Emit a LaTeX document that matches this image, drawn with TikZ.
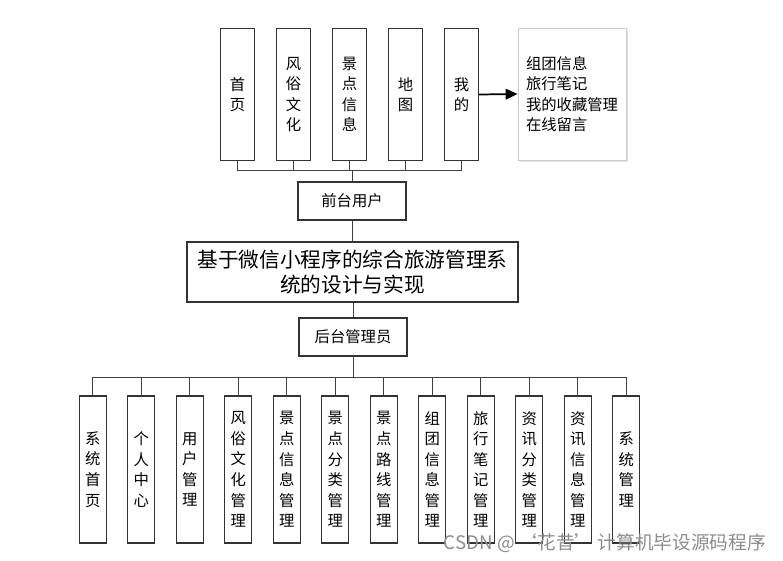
\documentclass[tikz,border=0pt]{standalone}
\usepackage{fontspec}
\setmainfont{Noto Sans CJK SC}
\usetikzlibrary{arrows.meta,shadows}

\begin{document}
\begin{tikzpicture}[x=0.75pt,y=-0.75pt,
  vbox/.style={draw=black!80,line width=0.9pt,fill=white,inner sep=0pt,align=center,font=\fontsize{11.5}{15.4}\selectfont},
  topbox/.style={vbox,minimum width=25.5pt,minimum height=99pt},
  subbox/.style={vbox,minimum width=20.25pt,minimum height=110.25pt},
  rolebox/.style={draw=black!80,line width=0.9pt,fill=white,minimum width=81pt,minimum height=28.5pt,inner sep=0pt,font=\fontsize{11.5}{14}\selectfont},
  link/.style={draw=black!75,line width=0.75pt}]
\useasboundingbox (0,0) rectangle (783,561);

\foreach \t [count=\i] in {{首\\页},{风\\俗\\文\\化},{景\\点\\信\\息},{地\\图},{我\\的}}
  \node [topbox] (t\i) at ({181.5+56*\i},94.5) {\t};

\node [draw=black!20,line width=0.6pt,fill=white,minimum width=81pt,minimum height=99pt,
  inner xsep=6pt,text width=69pt,align=left,font=\fontsize{11.5}{15.4}\selectfont,
  drop shadow={shadow xshift=1.5pt,shadow yshift=-1.5pt,fill=blue!30!gray!40,opacity=0.5}]
  (side) at (572,94) {组团信息\\旅行笔记\\我的收藏管理\\在线留言};
\draw [line width=1.3pt,-{Triangle[length=9pt,width=8pt]}] (t5.east) -- (side.west);

\node [rolebox] (front) at (352,201) {前台用户};
\node [draw=black!80,line width=0.9pt,fill=white,minimum width=248.25pt,minimum height=45pt,
  text width=240pt,align=center,inner sep=0pt,font=\fontsize{15.5}{18.75}\selectfont]
  (sys) at (352.5,272) {基于微信小程序的综合旅游管理系\\统的设计与实现};
\node [rolebox] (back) at (353,337) {后台管理员};

\coordinate (fbus) at (front.north |- 0,170);
\foreach \i in {1,...,5}
  \draw [link] (t\i.south) |- (fbus);
\draw [link] (fbus) -- (front.north);
\draw [link] (front.south) -- (front.south |- sys.north);
\draw [link] (sys.south -| back.north) -- (back.north);

\foreach \t [count=\i] in {{系\\统\\首\\页},{个\\人\\中\\心},{用\\户\\管\\理},{风\\俗\\文\\化\\管\\理},
  {景\\点\\信\\息\\管\\理},{景\\点\\分\\类\\管\\理},{景\\点\\路\\线\\管\\理},{组\\团\\信\\息\\管\\理},
  {旅\\行\\笔\\记\\管\\理},{资\\讯\\分\\类\\管\\理},{资\\讯\\信\\息\\管\\理},{系\\统\\管\\理}}
  \node [subbox] (b\i) at ({44.2+48.5*\i},469.5) {\t};

\coordinate (bbus) at (back.south |- 0,377);
\draw [link] (back.south) -- (bbus);
\foreach \i in {1,...,12}
  \draw [link] (b\i.north) |- (bbus);

\node [anchor=east,text=black!45,inner sep=0pt,font=\fontsize{14}{16}\selectfont] (mark) at (766,543)
  {CSDN @ ‘花昔’ 计算机毕设源码程序};
\end{tikzpicture}
\end{document}
